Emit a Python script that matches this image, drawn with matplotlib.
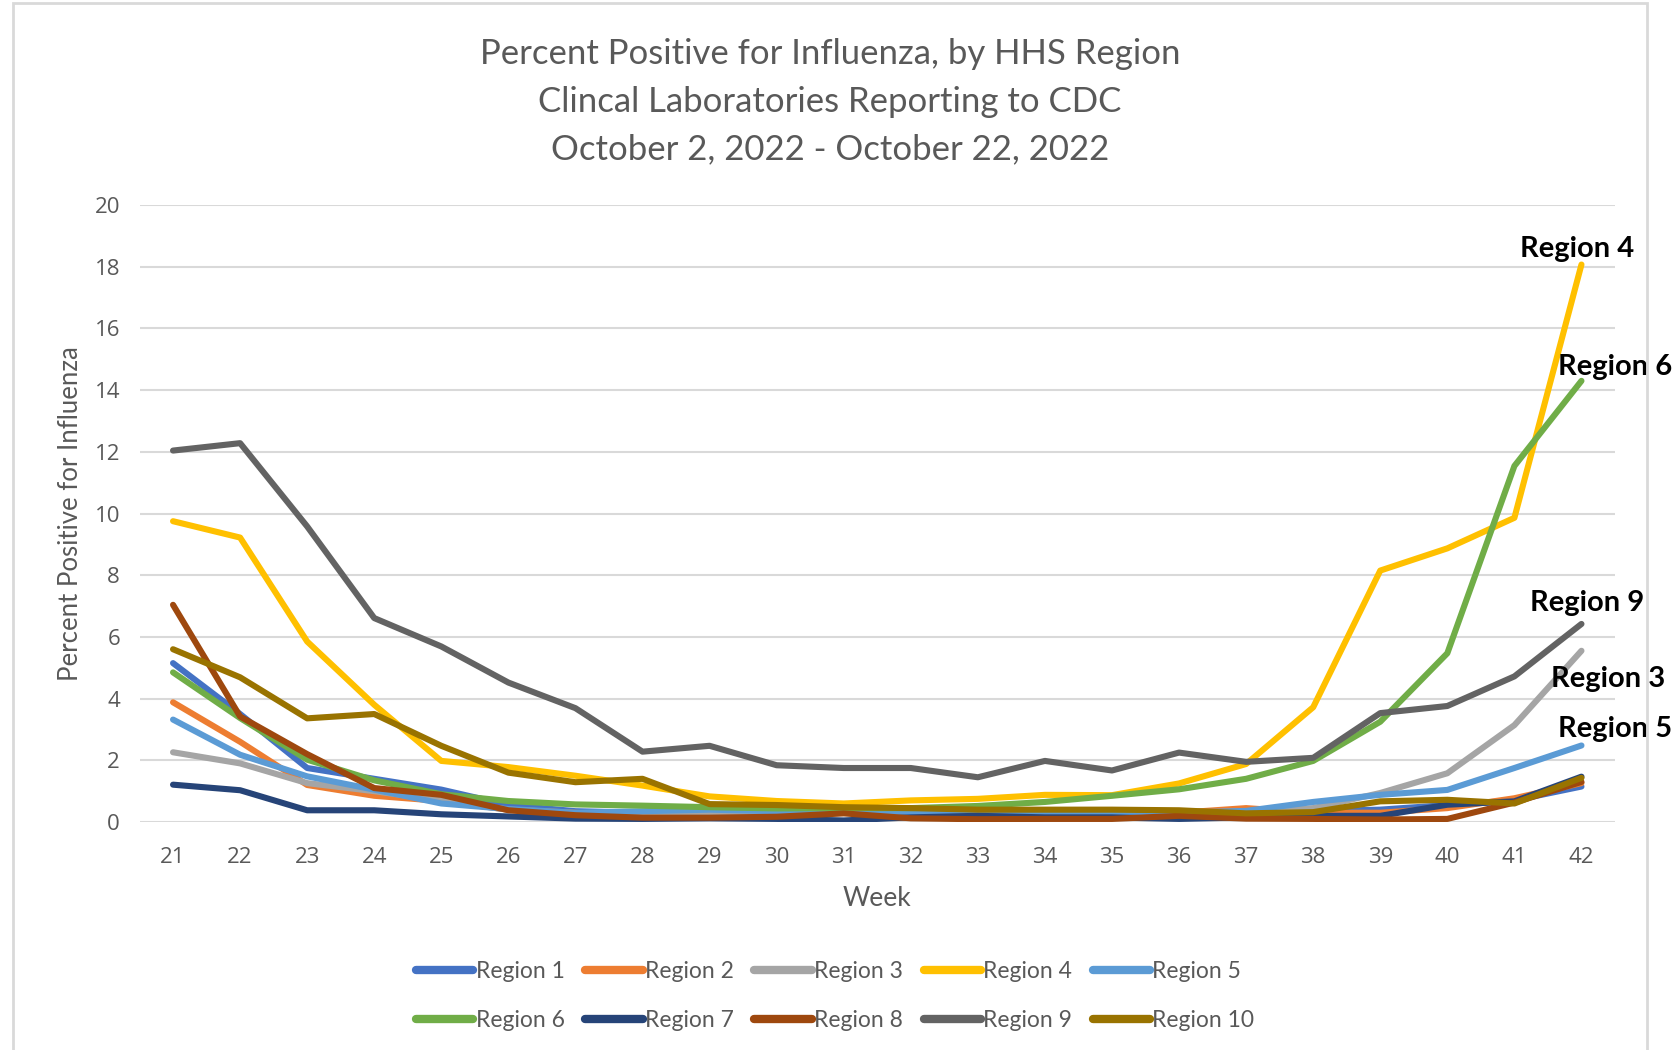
import matplotlib
matplotlib.use("Agg")
import matplotlib.pyplot as plt
from matplotlib.patches import Rectangle

# weeks on the x axis
weeks = list(range(21, 43))

r1 = [5.15, 3.5, 1.75, 1.4, 1.05, 0.55, 0.35, 0.3, 0.3, 0.25, 0.3, 0.3, 0.25, 0.25, 0.3, 0.3, 0.25, 0.35, 0.4, 0.55, 0.7, 1.15]
r2 = [3.88, 2.6, 1.2, 0.85, 0.68, 0.4, 0.3, 0.15, 0.2, 0.2, 0.3, 0.3, 0.2, 0.2, 0.2, 0.3, 0.45, 0.3, 0.3, 0.45, 0.77, 1.26]
r3 = [2.26, 1.9, 1.26, 1.0, 0.7, 0.4, 0.25, 0.3, 0.3, 0.3, 0.3, 0.3, 0.3, 0.3, 0.3, 0.3, 0.3, 0.45, 0.94, 1.58, 3.14, 5.55]
r4 = [9.75, 9.22, 5.85, 3.8, 1.98, 1.78, 1.5, 1.18, 0.83, 0.68, 0.6, 0.7, 0.75, 0.88, 0.87, 1.25, 1.88, 3.72, 8.15, 8.87, 9.86, 18.07]
r5 = [3.32, 2.18, 1.48, 1.05, 0.6, 0.42, 0.3, 0.35, 0.4, 0.35, 0.35, 0.3, 0.25, 0.25, 0.3, 0.3, 0.36, 0.65, 0.88, 1.04, 1.75, 2.48]
r6 = [4.85, 3.37, 2.02, 1.35, 0.9, 0.68, 0.57, 0.53, 0.48, 0.44, 0.45, 0.45, 0.52, 0.65, 0.85, 1.06, 1.4, 1.98, 3.25, 5.47, 11.54, 14.3]
r7 = [1.21, 1.03, 0.38, 0.38, 0.25, 0.18, 0.11, 0.1, 0.12, 0.1, 0.05, 0.15, 0.2, 0.15, 0.15, 0.1, 0.15, 0.2, 0.2, 0.56, 0.67, 1.47]
r8 = [7.04, 3.42, 2.2, 1.1, 0.88, 0.38, 0.22, 0.14, 0.14, 0.17, 0.28, 0.12, 0.09, 0.1, 0.1, 0.2, 0.11, 0.1, 0.08, 0.1, 0.63, 1.3]
r9 = [12.04, 12.28, 9.58, 6.61, 5.69, 4.52, 3.69, 2.28, 2.47, 1.84, 1.75, 1.75, 1.45, 1.98, 1.67, 2.25, 1.95, 2.08, 3.53, 3.76, 4.72, 6.42]
r10 = [5.6, 4.69, 3.36, 3.5, 2.47, 1.6, 1.29, 1.4, 0.58, 0.55, 0.48, 0.45, 0.4, 0.4, 0.4, 0.38, 0.28, 0.32, 0.67, 0.72, 0.6, 1.43]

names = ["Region 1", "Region 2", "Region 3", "Region 4", "Region 5",
         "Region 6", "Region 7", "Region 8", "Region 9", "Region 10"]
series = [r1, r2, r3, r4, r5, r6, r7, r8, r9, r10]
colors = ["#4472C4", "#ED7D31", "#A5A5A5", "#FFC000", "#5B9BD5",
          "#70AD47", "#264478", "#9E480E", "#636363", "#997300"]

# end-of-line labels: offset (points) from the last point of the series
end_labels = {"Region 4": (-3, 11), "Region 6": (24, 10), "Region 9": (4, 15),
              "Region 3": (19, -20), "Region 5": (24, 12)}

title_lines = ["Percent Positive for Influenza, by HHS Region",
               "Clincal Laboratories Reporting to CDC",
               "October 2, 2022 - October 22, 2022"]

W, H = 1677, 1050
fig = plt.figure(figsize=(W / 100, H / 100), dpi=100)
ax = fig.add_axes([139.5 / W, 1 - 822 / H, (1615 - 139.5) / W, (822 - 205) / H])

grey = "#595959"
lines = []
for name, vals, c in zip(names, series, colors):
    ln, = ax.plot(weeks, vals, color=c, lw=4.4, label=name, solid_capstyle="round",
                  solid_joinstyle="round", zorder=3)
    lines.append(ln)

ax.set_xlim(20.5, 42.5)
ax.set_ylim(0, 20)
ax.set_yticks(range(0, 21, 2))
ax.set_xticks(weeks)
ax.grid(axis="y", color="#D9D9D9", lw=1.5, zorder=0)
ax.tick_params(length=0, labelsize=16, labelcolor=grey)
ax.tick_params(axis="x", pad=18)
ax.tick_params(axis="y", pad=14)
for lab in ax.get_xticklabels() + ax.get_yticklabels():
    lab.set_family("Open Sans")
for s in ax.spines.values():
    s.set_visible(False)

ax.set_xlabel("Week", fontsize=19, color=grey, family="Lato", labelpad=13)
ax.set_ylabel("Percent Positive for Influenza", fontsize=18.5, color=grey,
              family="Lato", labelpad=8.5)

for i, line in enumerate(title_lines):
    fig.text(830 / W, 1 - (54 + 47.5 * i) / H, line, ha="center", va="center",
             fontsize=25, color=grey, family="Lato")

for name, (dx, dy) in end_labels.items():
    vals = series[names.index(name)]
    ax.annotate(name, xy=(weeks[-1], vals[-1]), xytext=(dx, dy),
                textcoords="offset points", ha="center", va="center",
                fontsize=21, fontweight="bold", family="Lato", color="black",
                annotation_clip=False, zorder=5)

# legend reads row by row: matplotlib fills columns first, so interleave
order = [0, 5, 1, 6, 2, 7, 3, 8, 4, 9]
leg = fig.legend([lines[i] for i in order], [names[i] for i in order],
                 loc="center", bbox_to_anchor=(0.498, 1 - 996 / H), ncol=5,
                 frameon=False, fontsize=16.5, handlelength=2.5,
                 handletextpad=0.1, columnspacing=0.9, labelspacing=1.25)
for t in leg.get_texts():
    t.set_color(grey)
    t.set_family("Lato")
for h in leg.legend_handles:
    h.set_linewidth(6)

fig.patches.append(Rectangle((13 / W, -0.05), (1647 - 13) / W, 1.05 - 3 / H,
                             transform=fig.transFigure, fill=False,
                             edgecolor="#D9D9D9", lw=2))

fig.savefig("out.png", dpi=100)
